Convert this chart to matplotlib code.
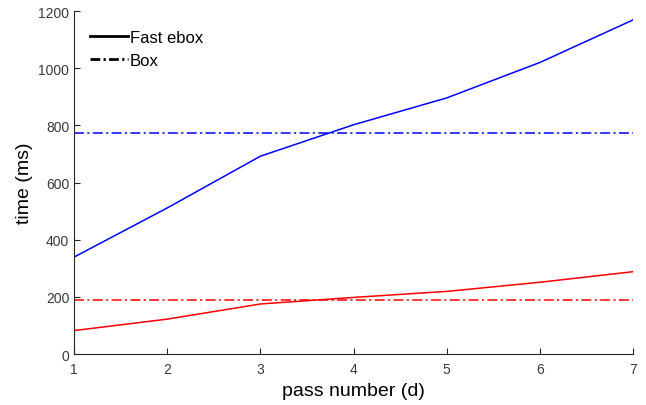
import matplotlib
matplotlib.use("Agg")
import matplotlib.pyplot as plt
from matplotlib.lines import Line2D

plt.rcParams["font.family"] = ["Liberation Sans", "DejaVu Sans"]

# pass number d
passes = [1, 2, 3, 4, 5, 6, 7]
# fast ebox timings (ms)
fast_blue = [339, 511, 692, 802, 896, 1020, 1169]
fast_red = [82, 122, 175, 198, 219, 251, 288]
# box timings, constant over d (ms)
box_blue = 772
box_red = 190

# matlab-like dash-dot
dashdot = (0, (6.5, 2.2, 1.4, 2.2))

fig = plt.figure(figsize=(6.46, 4.06), dpi=100)
ax = fig.add_axes([0.1146, 0.1256, 0.8654, 0.8448])

ax.plot(passes, fast_blue, color="#0000ff", lw=1.1)
ax.plot(passes, [box_blue] * len(passes), color="#0000ff", lw=1.1, ls=dashdot)
ax.plot(passes, fast_red, color="#ff0000", lw=1.1)
ax.plot(passes, [box_red] * len(passes), color="#ff0000", lw=1.1, ls=dashdot)

ax.set_xlim(1, 7)
ax.set_ylim(0, 1200)
ax.set_xticks(passes)
ax.set_yticks(range(0, 1201, 200))

for side in ("top", "right"):
    ax.spines[side].set_visible(False)
for side in ("left", "bottom"):
    ax.spines[side].set_color("#262626")
    ax.spines[side].set_linewidth(0.8)
ax.tick_params(direction="in", length=4, width=0.8, colors="#262626",
               labelsize=10, labelcolor="#3a3a3a")
ax.tick_params(axis="x", pad=6)

ax.set_xlabel("pass number (d)", fontsize=14)
ax.set_ylabel("time (ms)", fontsize=14)

handles = [
    Line2D([], [], color="black", lw=2, ls="-"),
    Line2D([], [], color="black", lw=2, ls=(0, (3.5, 1.2, 0.8, 1.2))),
]
ax.legend(handles, ["Fast ebox", "Box"], loc="upper left", frameon=False,
          fontsize=12, handlelength=2.3, handletextpad=0.1,
          labelspacing=0.45, borderaxespad=0.55,
          bbox_to_anchor=(0.0, 0.99))

fig.savefig("out.png", dpi=100)
